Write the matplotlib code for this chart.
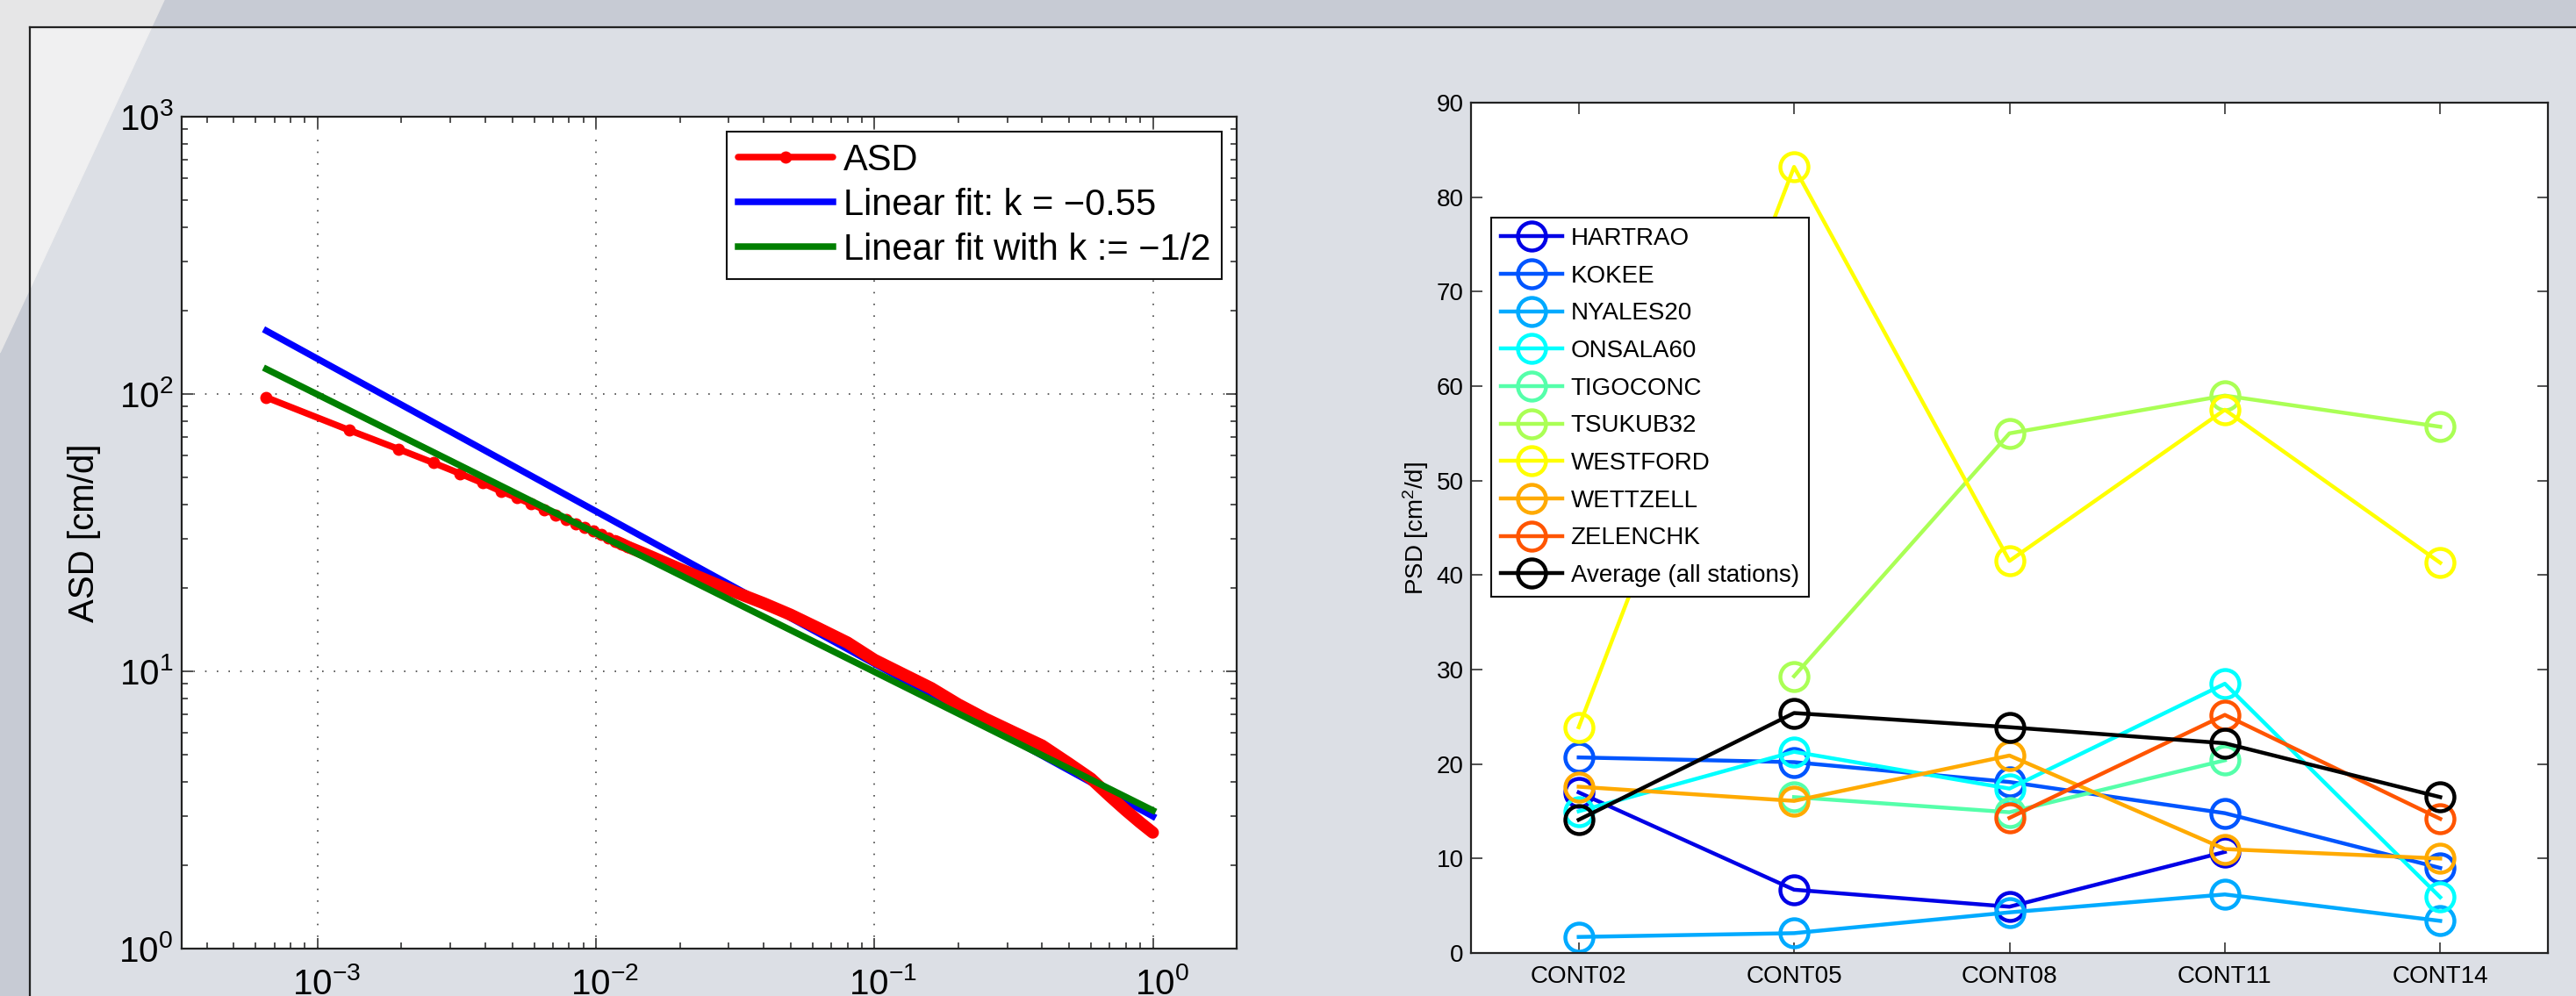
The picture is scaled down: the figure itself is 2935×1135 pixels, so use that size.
import numpy as np
import matplotlib.pyplot as plt
from matplotlib.patches import Polygon, Rectangle
from matplotlib.lines import Line2D
from matplotlib.ticker import NullFormatter
from matplotlib.transforms import ScaledTranslation

plt.rcParams['font.family'] = ['Liberation Sans', 'DejaVu Sans']
plt.rcParams['mathtext.fontset'] = 'custom'
plt.rcParams['mathtext.rm'] = 'Liberation Sans'
plt.rcParams['mathtext.it'] = 'Liberation Sans:italic'

W, H = 2935, 1135

# ---- left panel: amplitude spectral density (log-log)
asd_f = [0.000651, 0.001302, 0.001953, 0.002604, 0.003255, 0.003906, 0.004557,
         0.005208, 0.005859, 0.006510, 0.007161, 0.007813, 0.008464, 0.009115,
         0.009766, 0.010417, 0.011068, 0.011719, 0.012370, 0.013021,
         0.015, 0.02, 0.025, 0.0316, 0.04, 0.05, 0.063, 0.08, 0.1, 0.126,
         0.16, 0.2, 0.25, 0.32, 0.4, 0.5, 0.6, 0.7, 0.8, 0.9, 1.0]
asd_v = [97.4, 74.0, 63.3, 56.5, 51.6, 47.8, 44.6,
         42.2, 40.1, 38.3, 36.7, 35.3, 34.1, 33.0,
         32.0, 31.1, 30.3, 29.5, 28.8, 28.1,
         26.5, 23.4, 21.3, 19.3, 17.6, 16.0, 14.3, 12.7, 11.0, 9.8,
         8.7, 7.6, 6.75, 6.0, 5.4, 4.65, 4.1, 3.55, 3.15, 2.85, 2.62]
fit_f = [6.55e-4, 1.0]
fit_free = [169.0, 3.0]     # k = -0.55
fit_half = [123.0, 3.15]    # k := -1/2

# ---- right panel: PSD per station and campaign
campaigns = ['CONT02', 'CONT05', 'CONT08', 'CONT11', 'CONT14']
stations = ['HARTRAO', 'KOKEE', 'NYALES20', 'ONSALA60', 'TIGOCONC',
            'TSUKUB32', 'WESTFORD', 'WETTZELL', 'ZELENCHK', 'Average (all stations)']
hartrao = [17.0, 6.7, 4.9, 10.7, np.nan]
kokee = [20.7, 20.2, 18.1, 14.8, 9.0]
nyales20 = [1.7, 2.1, 4.3, 6.2, 3.4]
onsala60 = [15.0, 21.3, 17.4, 28.5, 5.9]
tigoconc = [np.nan, 16.5, 14.9, 20.4, np.nan]
tsukub32 = [np.nan, 29.3, 55.0, 59.0, 55.7]
westford = [23.9, 83.2, 41.5, 57.5, 41.3]
wettzell = [17.6, 16.1, 20.9, 11.0, 10.0]
zelenchk = [np.nan, np.nan, 14.3, 25.2, 14.2]
average = [14.1, 25.4, 23.9, 22.2, 16.5]
colors = ['#0000e6', '#0055ff', '#00aaff', '#00ffff', '#55ffaa',
          '#aaff55', '#ffff00', '#ffaa00', '#ff5500', '#000000']


def px(x, y):
    return (x / W, 1 - y / H)


fig = plt.figure(figsize=(W / 100, H / 100), dpi=100)
fig.patch.set_facecolor('#dcdfe5')

# slide background: darker bands outside the frame, light diagonal corner
fig.add_artist(Rectangle(px(0, 31), 1, 31 / H, transform=fig.transFigure,
                         color='#c7cbd4', zorder=-5))
fig.add_artist(Rectangle(px(0, H), 34 / W, 1, transform=fig.transFigure,
                         color='#c7cbd4', zorder=-5))
fig.add_artist(Polygon([px(0, 0), px(187, 0), px(0, 402)], closed=True,
                       transform=fig.transFigure, color='#e6e6e7', zorder=-4))
fig.add_artist(Polygon([px(34, 31), px(172.6, 31), px(34, 329)], closed=True,
                       transform=fig.transFigure, color='#f0f0f1', zorder=-3))
fig.add_artist(Line2D([34 / W, 1], [1 - 31 / H] * 2, transform=fig.transFigure,
                      color='#222222', lw=1.6, zorder=-2))
fig.add_artist(Line2D([34 / W] * 2, [0, 1 - 31 / H], transform=fig.transFigure,
                      color='#222222', lw=1.6, zorder=-2))

# ---------------- left axes
ax1 = fig.add_axes([207 / W, 1 - 1081 / H, 1202 / W, 948 / H])
ax1.set_xscale('log')
ax1.set_yscale('log')
ax1.set_xlim(3.25e-4, 2.0)
ax1.set_ylim(1, 1000)

n_dots = 20
h_free, = ax1.plot(fit_f, fit_free, '-', color='#0000ff', lw=5.4,
                   label='Linear fit: k = \u22120.55', zorder=3)
h_asd, = ax1.plot(asd_f, asd_v, '-', color='red', lw=5.4, marker='o', ms=9,
                  markevery=slice(0, n_dots), solid_capstyle='round',
                  label='ASD', zorder=4)
ax1.plot(asd_f[n_dots - 3:], asd_v[n_dots - 3:], '-', color='red', lw=10,
         solid_capstyle='round', zorder=4)
h_half, = ax1.plot(fit_f, fit_half, '-', color='#007f00', lw=5.4,
                   label='Linear fit with k := \u22121/2', zorder=5)

ax1.set_xticks([1e-3, 1e-2, 1e-1, 1e0])
ax1.set_yticks([1, 10, 100, 1000])
ax1.xaxis.set_minor_formatter(NullFormatter())
ax1.yaxis.set_minor_formatter(NullFormatter())
ax1.grid(True, which='major', color='#444444', lw=1.2, ls=(0, (1, 7)))
ax1.tick_params(which='both', direction='in', top=True, right=True,
                color='#222222', width=1.1)
ax1.tick_params(which='major', length=9, labelsize=29)
ax1.tick_params(which='minor', length=5)
ax1.tick_params(axis='x', pad=15)
ax1.tick_params(axis='y', pad=7)
for lab in ax1.get_xticklabels():
    lab.set_transform(lab.get_transform() +
                      ScaledTranslation(0.1, 0, fig.dpi_scale_trans))
for s in ax1.spines.values():
    s.set_linewidth(1.6)
    s.set_color('#222222')
ax1.set_ylabel('ASD [cm/d]', fontsize=29)
ax1.yaxis.label.set_va('center')
ax1.yaxis.set_label_coords((96 - 207) / 1202, 0.5)

leg1 = ax1.legend(handles=[h_asd, h_free, h_half], loc='upper left',
                  bbox_to_anchor=((828 - 207) / 1202, (1081 - 150) / 948),
                  fontsize=30, handlelength=2.6, handletextpad=0.3,
                  labelspacing=0.27, borderpad=0.3, borderaxespad=0,
                  fancybox=False, framealpha=1, edgecolor='#111111',
                  numpoints=1)
leg1.get_frame().set_linewidth(1.5)
leg1.set_zorder(10)

# ---------------- right axes
ax2 = fig.add_axes([1676 / W, 1 - 1086 / H, 1227 / W, 969 / H])
series = [hartrao, kokee, nyales20, onsala60, tigoconc,
          tsukub32, westford, wettzell, zelenchk, average]
xs = np.arange(1, len(campaigns) + 1)
for name, vals, c in zip(stations, series, colors):
    ax2.plot(xs, vals, '-o', color=c, lw=3.2, ms=23, mfc='none', mew=3.2,
             label=name)

ax2.set_xlim(0.5, 5.5)
ax2.set_ylim(0, 90)
ax2.set_xticks(xs)
ax2.set_xticklabels(campaigns)
ax2.set_yticks(np.arange(0, 91, 10))
ax2.tick_params(direction='in', top=True, right=True, length=9,
                width=1.1, color='#222222', labelsize=20)
ax2.tick_params(axis='x', pad=10)
ax2.tick_params(axis='y', pad=6)
for s in ax2.spines.values():
    s.set_linewidth(1.6)
    s.set_color('#222222')
ax2.set_ylabel('PSD [cm$^2$/d]', fontsize=20)
ax2.yaxis.label.set_va('center')
ax2.yaxis.set_label_coords((1613 - 1676) / 1227, 0.5)

leg2 = ax2.legend(loc='upper left',
                  bbox_to_anchor=((1699 - 1676) / 1227, (1086 - 248) / 969),
                  fontsize=20, handlelength=2.5, handletextpad=0.36,
                  labelspacing=0.6, borderpad=0.4, borderaxespad=0,
                  fancybox=False, framealpha=1, edgecolor='#111111',
                  numpoints=1)
leg2.get_frame().set_linewidth(1.5)

fig.savefig('out.png', dpi=100, facecolor=fig.get_facecolor())
